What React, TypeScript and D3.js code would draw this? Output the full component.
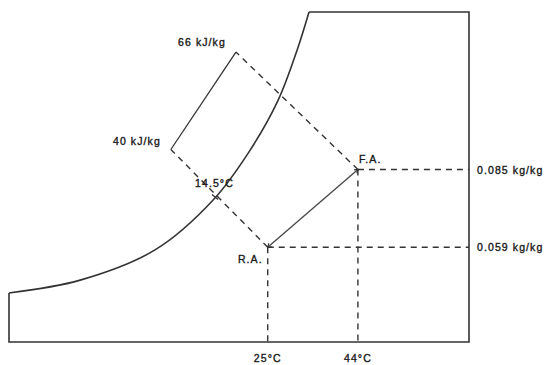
import React from "react";
import * as d3 from "d3";

// Chart data (sketch psychrometric chart)
const tempDomain = [-29.5, 67.4]; // dry-bulb °C (x)
const humidityDomain = [0.0273, 0.1377]; // humidity ratio kg/kg (y)

// saturation curve: [T, w]
const saturationT = [-29.5, -14.5, 1.25, 13.5, 21.3, 27.2, 31.2, 33.7];
const saturationW = [0.0437, 0.048, 0.0581, 0.0748, 0.0915, 0.1082, 0.125, 0.1377];

// states
const stateNames = ["R.A.", "F.A."];
const stateTemps = [25, 44];
const stateHumidity = [0.059, 0.085];
const tempLabels = ["25°C", "44°C"];
const humidityLabels = ["0.059 kg/kg", "0.085 kg/kg"];

// enthalpy scale ends
const enthalpyLabels = ["40 kJ/kg", "66 kJ/kg"];
const enthalpyT = [4.6, 18.3];
const enthalpyW = [0.0917, 0.1243];

// wet bulb mark
const wetBulbLabel = "14.5°C";
const wetBulbT = 13.9;
const wetBulbW = 0.0758;

const W = 550;
const H = 365;
const left = 9, right = 469, top = 12, bottom = 342;

export default function App() {
  const x = d3.scaleLinear().domain(tempDomain).range([left, right]);
  const y = d3.scaleLinear().domain(humidityDomain).range([bottom, top]);

  const satPts: [number, number][] = saturationT.map((t, i) => [x(t), y(saturationW[i])]);
  const curve = d3.line().curve(d3.curveCatmullRom.alpha(0.5))(satPts) || "";
  const first = satPts[0];
  const last = satPts[satPts.length - 1];
  const outline = `M${first[0]},${first[1]}L${left},${bottom}L${right},${bottom}L${right},${top}L${last[0]},${last[1]}`;

  const stroke = "#333";
  const dash = "6,5";
  const font = "'Liberation Sans', Arial, Helvetica, sans-serif";
  const fs = 10.5;
  const ls = 1.1;

  const ra = [x(stateTemps[0]), y(stateHumidity[0])];
  const fa = [x(stateTemps[1]), y(stateHumidity[1])];
  const h40 = [x(enthalpyT[0]), y(enthalpyW[0])];
  const h66 = [x(enthalpyT[1]), y(enthalpyW[1])];
  const wb = [x(wetBulbT), y(wetBulbW)];

  // small arrowheads at both ends of the process line
  const arrow = (p: number[], q: number[]) => {
    const a = Math.atan2(p[1] - q[1], p[0] - q[0]);
    const L = 4, s = 0.6;
    return `M${p[0] - L * Math.cos(a - s)},${p[1] - L * Math.sin(a - s)}L${p[0]},${p[1]}L${p[0] - L * Math.cos(a + s)},${p[1] - L * Math.sin(a + s)}`;
  };

  // tick perpendicular to curve at wet bulb point
  const tickDir = (() => {
    const dx = 1, dy = -1.2;
    const n = Math.hypot(dx, dy);
    return [-dy / n, dx / n];
  })();

  const textProps = {
    fontFamily: font,
    fontSize: fs,
    letterSpacing: ls,
    fill: "#111",
    stroke: "#222",
    strokeWidth: 0.35,
  } as const;

  return (
    <svg width={W} height={H} style={{ position: "absolute", left: 0, top: 0, background: "#fff" }}>
      <path d={outline} fill="none" stroke={stroke} strokeWidth={1.6} />
      <path d={curve} fill="none" stroke={stroke} strokeWidth={1.6} />

      {/* dashed guide lines */}
      {stateTemps.map((t, i) => (
        <g key={"g" + i}>
          <line x1={x(t)} y1={y(stateHumidity[i])} x2={x(t)} y2={bottom} stroke={stroke} strokeWidth={1.4} strokeDasharray={dash} />
          <line x1={x(t)} y1={y(stateHumidity[i])} x2={right} y2={y(stateHumidity[i])} stroke={stroke} strokeWidth={1.4} strokeDasharray={dash} />
          <text x={x(t)} y={bottom + 20} textAnchor="middle" {...textProps}>{tempLabels[i]}</text>
          <text x={right + 8} y={y(stateHumidity[i]) + 4} {...textProps}>{humidityLabels[i]}</text>
        </g>
      ))}

      {/* enthalpy dashed lines */}
      <line x1={ra[0]} y1={ra[1]} x2={h40[0]} y2={h40[1]} stroke={stroke} strokeWidth={1.4} strokeDasharray={dash} />
      <line x1={fa[0]} y1={fa[1]} x2={h66[0]} y2={h66[1]} stroke={stroke} strokeWidth={1.4} strokeDasharray={dash} />
      {/* enthalpy scale */}
      <line x1={h40[0]} y1={h40[1]} x2={h66[0]} y2={h66[1]} stroke={stroke} strokeWidth={1.3} />
      <text x={h40[0] - 10} y={h40[1] - 5} textAnchor="end" {...textProps}>{enthalpyLabels[0]}</text>
      <text x={h66[0] - 10} y={h66[1] - 6} textAnchor="end" {...textProps}>{enthalpyLabels[1]}</text>

      {/* wet bulb tick */}
      <line x1={wb[0] - tickDir[0] * 4} y1={wb[1] - tickDir[1] * 4} x2={wb[0] + tickDir[0] * 4} y2={wb[1] + tickDir[1] * 4} stroke={stroke} strokeWidth={1.3} />
      <text x={wb[0] - 20} y={wb[1] - 10} {...textProps}>{wetBulbLabel}</text>

      {/* process line */}
      <line x1={ra[0]} y1={ra[1]} x2={fa[0]} y2={fa[1]} stroke="#4a4a4a" strokeWidth={1.4} />
      <path d={arrow(fa, ra)} fill="none" stroke={stroke} strokeWidth={1.2} />
      <path d={arrow(ra, fa)} fill="none" stroke={stroke} strokeWidth={1.2} />

      <text x={ra[0] - 5} y={ra[1] + 16} textAnchor="end" {...textProps}>{stateNames[0]}</text>
      <text x={fa[0] + 1} y={fa[1] - 7} {...textProps}>{stateNames[1]}</text>
    </svg>
  );
}
